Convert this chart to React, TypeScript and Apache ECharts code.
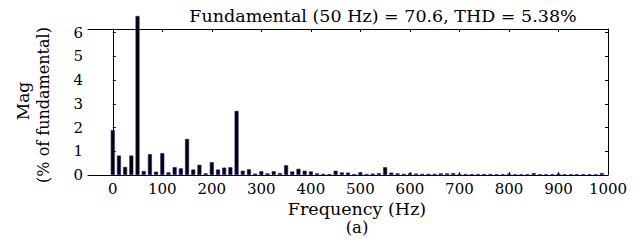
import React, { useEffect, useRef } from "react";
import * as echarts from "echarts";

const frequencies = [
  0, 12.5, 25, 37.5, 50, 62.5, 75, 87.5, 100, 112.5, 125, 137.5, 150, 162.5, 175, 187.5,
  200, 212.5, 225, 237.5, 250, 262.5, 275, 287.5, 300, 312.5, 325, 337.5, 350, 362.5, 375, 387.5,
  400, 412.5, 425, 437.5, 450, 462.5, 475, 487.5, 500, 512.5, 525, 537.5, 550, 562.5, 575, 587.5,
  600, 612.5, 625, 637.5, 650, 662.5, 675, 687.5, 700, 712.5, 725, 737.5, 750, 762.5, 775, 787.5,
  800, 812.5, 825, 837.5, 850, 862.5, 875, 887.5, 900, 912.5, 925, 937.5, 950, 962.5, 975, 987.5,
];

const magnitudes = [
  1.89, 0.82, 0.34, 0.82, 6.7, 0.17, 0.88, 0.14, 0.92, 0.11, 0.33, 0.28, 1.52, 0.23, 0.43, 0.07,
  0.54, 0.23, 0.31, 0.33, 2.7, 0.18, 0.24, 0.06, 0.16, 0.07, 0.16, 0.08, 0.41, 0.15, 0.26, 0.18,
  0.15, 0.07, 0.05, 0.04, 0.18, 0.11, 0.1, 0.04, 0.11, 0.04, 0.06, 0.08, 0.33, 0.1, 0.07, 0.05,
  0.08, 0.06, 0.05, 0.05, 0.05, 0.07, 0.07, 0.08, 0.05, 0.04, 0.04, 0.04, 0.04, 0.04, 0.03, 0.03,
  0.06, 0.03, 0.03, 0.03, 0.08, 0.03, 0.03, 0.03, 0.06, 0.03, 0.03, 0.03, 0.03, 0.03, 0.03, 0.08,
];

const xTickLabels = [0, 100, 200, 300, 400, 500, 600, 700, 800, 900, 1000];
const yTickLabels = [0, 1, 2, 3, 4, 5, 6];

const titleText = "Fundamental (50 Hz) = 70.6, THD = 5.38%";
const xAxisName = "Frequency (Hz)";
const yAxisName1 = "Mag";
const yAxisName2 = "(% of fundamental)";
const caption = "(a)";

const FONT = "'DejaVu Serif', 'Liberation Serif', serif";

export default function App() {
  const ref = useRef<HTMLDivElement>(null);
  useEffect(() => {
    if (!ref.current) return;
    const chart = echarts.init(ref.current, undefined, { renderer: "svg" });
    const data = frequencies.map((f, i) => [f, magnitudes[i]]);
    const textStyle = (fontSize: number) => ({
      fill: "#000",
      fontFamily: FONT,
      fontSize,
    });
    chart.setOption({
      animation: false,
      backgroundColor: "#fff",
      grid: { left: 88, right: 34, top: 29, height: 146 },
      xAxis: [
        {
          type: "value",
          position: "bottom",
          min: -50,
          max: 1000,
          axisLine: { show: true, lineStyle: { color: "#000", width: 1 } },
          axisTick: { show: true, inside: true, length: 3, customValues: xTickLabels, lineStyle: { color: "#000" } },
          axisLabel: {
            customValues: xTickLabels,
            formatter: (v: number) => String(v),
            color: "#000",
            fontFamily: FONT,
            fontSize: 15,
            margin: 6,
          },
          splitLine: { show: false },
        },
        {
          type: "value",
          position: "top",
          min: -50,
          max: 1000,
          axisLine: { show: true, onZero: false, lineStyle: { color: "#000", width: 1 } },
          axisTick: { show: true, inside: true, length: 3, customValues: xTickLabels, lineStyle: { color: "#000" } },
          axisLabel: { show: false },
          splitLine: { show: false },
        },
      ],
      yAxis: [
        {
          type: "value",
          position: "left",
          min: 0,
          max: 6.15,
          axisLine: { show: true, lineStyle: { color: "#000", width: 1 } },
          axisTick: { show: true, inside: true, length: 3, customValues: yTickLabels, lineStyle: { color: "#000" } },
          axisLabel: { customValues: yTickLabels, color: "#000", fontFamily: FONT, fontSize: 15, margin: 5 },
          splitLine: { show: false },
        },
        {
          type: "value",
          position: "right",
          min: 0,
          max: 6.15,
          axisLine: { show: true, onZero: false, lineStyle: { color: "#000", width: 1 } },
          axisTick: { show: true, inside: true, length: 3, customValues: yTickLabels, lineStyle: { color: "#000" } },
          axisLabel: { show: false },
          splitLine: { show: false },
        },
      ],
      series: [
        {
          type: "bar",
          xAxisIndex: 0,
          yAxisIndex: 0,
          data,
          barWidth: 4,
          clip: false,
          itemStyle: { color: "#000", borderColor: "#20208a", borderWidth: 0.6 },
        },
      ],
      graphic: [
        { type: "text", x: 383, y: 16, style: { ...textStyle(17.5), text: titleText, align: "center", verticalAlign: "middle" } },
        { type: "text", x: 357, y: 209, style: { ...textStyle(17.5), text: xAxisName, align: "center", verticalAlign: "middle" } },
        { type: "text", x: 357, y: 227, style: { ...textStyle(16.5), text: caption, align: "center", verticalAlign: "middle" } },
        { type: "text", x: 23, y: 101, rotation: Math.PI / 2, style: { ...textStyle(17), text: yAxisName1, align: "center", verticalAlign: "middle" } },
        { type: "text", x: 43, y: 105, rotation: Math.PI / 2, style: { ...textStyle(16), text: yAxisName2, align: "center", verticalAlign: "middle" } },
      ],
    });
    return () => chart.dispose();
  }, []);
  return (
    <div
      ref={ref}
      style={{ position: "fixed", left: 0, top: 0, width: 642, height: 250, background: "#fff" }}
    />
  );
}
